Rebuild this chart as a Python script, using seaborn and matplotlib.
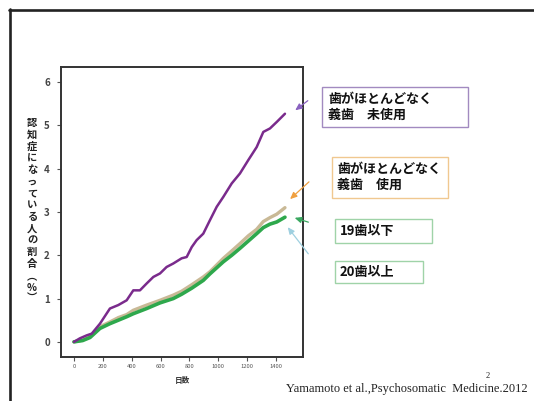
import matplotlib
matplotlib.use("Agg")
import matplotlib.pyplot as plt
import seaborn as sns
import pandas as pd
from matplotlib.lines import Line2D
from matplotlib.patches import Rectangle, FancyArrowPatch

# ---- data ----
days_purple = [0, 40, 88, 123, 180, 249, 307, 365, 411, 457, 504, 550, 596, 642, 688,
               746, 781, 816, 850, 896, 942, 989, 1035, 1093, 1150, 1208, 1266, 1312,
               1358, 1405, 1462]
vals_purple = [0, 0.08, 0.15, 0.19, 0.42, 0.77, 0.85, 0.96, 1.19, 1.19, 1.35, 1.5, 1.58,
               1.73, 1.81, 1.93, 1.96, 2.19, 2.35, 2.5, 2.81, 3.12, 3.35, 3.66, 3.89,
               4.2, 4.5, 4.85, 4.93, 5.08, 5.27]
days_tan = [0, 60, 111, 180, 249, 307, 365, 411, 504, 596, 688, 746, 816, 896, 942,
            1035, 1093, 1150, 1208, 1266, 1312, 1358, 1405, 1462]
vals_tan = [0, 0.04, 0.12, 0.35, 0.46, 0.56, 0.63, 0.73, 0.85, 0.96, 1.08, 1.17, 1.32,
            1.5, 1.62, 1.93, 2.1, 2.27, 2.45, 2.6, 2.78, 2.87, 2.95, 3.1]
days_green = [0, 60, 111, 180, 249, 307, 365, 411, 504, 596, 688, 746, 816, 896, 942,
              1035, 1093, 1150, 1208, 1266, 1312, 1358, 1405, 1462]
vals_green = [0, 0.03, 0.1, 0.31, 0.42, 0.5, 0.58, 0.65, 0.77, 0.9, 1.0, 1.1, 1.24,
              1.42, 1.57, 1.85, 2.0, 2.16, 2.33, 2.5, 2.64, 2.72, 2.77, 2.88]

x_ticks = [0, 200, 400, 600, 800, 1000, 1200, 1400]
y_ticks = [0, 1, 2, 3, 4, 5, 6]

ylabel_chars = ["認", "知", "症", "に", "な", "っ", "て", "い", "る", "人", "の", "割", "合", "︵", "%", "︶"]
xlabel_text = "日数"
label_purple = "歯がほとんどなく\n義歯　未使用"
label_tan = "歯がほとんどなく\n義歯　使用"
label_green19 = "19歯以下"
label_green20 = "20歯以上"
citation = "Yamamoto et al.,Psychosomatic  Medicine.2012"
page_no = "2"

sns.set_theme(style="white")
plt.rcParams['font.family'] = ['Noto Sans CJK JP', 'DejaVu Sans']

W, H = 534, 401
fig = plt.figure(figsize=(W / 100, H / 100), dpi=100)
fig.patch.set_facecolor("white")

def fx(px):
    return px / W

def fy(py):
    return 1 - py / H

ax_l, ax_r, ax_t, ax_b = 61, 303, 67, 357
ax = fig.add_axes([fx(ax_l), fy(ax_b), (ax_r - ax_l) / W, (ax_b - ax_t) / H])

df = pd.concat([
    pd.DataFrame({"day": days_purple, "val": vals_purple, "grp": "purple"}),
    pd.DataFrame({"day": days_tan, "val": vals_tan, "grp": "tan"}),
    pd.DataFrame({"day": days_green, "val": vals_green, "grp": "green"}),
])
styles = {"purple": ("#7a2b8c", 1.8), "tan": ("#c9b996", 2.4), "green": ("#2ea84c", 2.6)}
for g in ["tan", "green", "purple"]:
    sub = df[df.grp == g]
    sns.lineplot(data=sub, x="day", y="val", ax=ax, color=styles[g][0],
                 linewidth=styles[g][1], legend=False, estimator=None, sort=False)

ax.set_xlim(-90, 1587)
ax.set_ylim(-0.35, 6.35)
ax.set_xticks(x_ticks)
ax.set_xticklabels([str(t) for t in x_ticks], fontsize=4.2, color="#555555")
ax.set_yticks(y_ticks)
ax.set_yticklabels([str(t) for t in y_ticks], fontsize=7, color="#444444", fontweight="bold")
ax.tick_params(axis="x", which="both", direction="out", length=3, width=0.8,
               color="#555555", bottom=True, pad=2)
ax.tick_params(axis="y", which="both", direction="out", length=3, width=0.8,
               color="#555555", left=True, pad=5)
ax.set_xlabel("")
ax.set_ylabel("")
for s in ax.spines.values():
    s.set_color("#333333")
    s.set_linewidth(1.4)

# vertical stacked y label
fig.text(fx(32), fy(211), "\n".join(ylabel_chars), ha="center", va="center",
         fontsize=7.4, fontweight="bold", color="#222222", linespacing=1.22)
fig.text(fx(182), fy(381), xlabel_text, ha="center", va="center", fontsize=5.5,
         fontweight="bold", color="#333333")

# slide frame
fig.add_artist(Line2D([fx(9), 1.0], [fy(9.5), fy(9.5)], color="#222222", linewidth=1.9))
fig.add_artist(Line2D([fx(9.5), fx(9.5)], [fy(9), 0.0], color="#222222", linewidth=1.9))

# labelled boxes
def box(x0, y0, x1, y1, ec, text, tx, ty):
    fig.add_artist(Rectangle((fx(x0), fy(y1)), (x1 - x0) / W, (y1 - y0) / H,
                             fill=False, edgecolor=ec, linewidth=1.0,
                             transform=fig.transFigure))
    fig.text(fx(tx), fy(ty), text, ha="left", va="center", fontsize=9.4,
             fontweight="bold", color="#111111", linespacing=1.2)

box(322, 87, 468, 127, "#a28ac0", label_purple, 328, 107)
box(332, 157, 448, 198, "#f0c890", label_tan, 337, 177)
box(335, 219, 432, 243, "#9fd3a8", label_green19, 340, 231)
box(335, 261, 423, 283, "#9fd3a8", label_green20, 340, 272)

# arrows
def arrow(x0, y0, x1, y1, color):
    fig.add_artist(FancyArrowPatch(
        (fx(x0), fy(y0)), (fx(x1), fy(y1)), transform=fig.transFigure,
        arrowstyle="-|>,head_length=4,head_width=1.8", color=color, linewidth=0.9,
        mutation_scale=1))

arrow(310, 99, 293, 112, "#8a62c0")
arrow(311, 180, 288, 201, "#f0a040")
arrow(311, 223, 292, 217, "#3aa860")
arrow(310, 256, 286, 225, "#9fd0e0")

fig.text(fx(528), fy(392), citation, ha="right", va="baseline", fontsize=9,
         family=["Liberation Serif", "DejaVu Serif"], color="#222222")
fig.text(fx(488), fy(378), page_no, ha="center", va="baseline", fontsize=6,
         family=["Liberation Serif", "DejaVu Serif"], color="#222222")

fig.savefig("out.png", dpi=100, facecolor="white")
